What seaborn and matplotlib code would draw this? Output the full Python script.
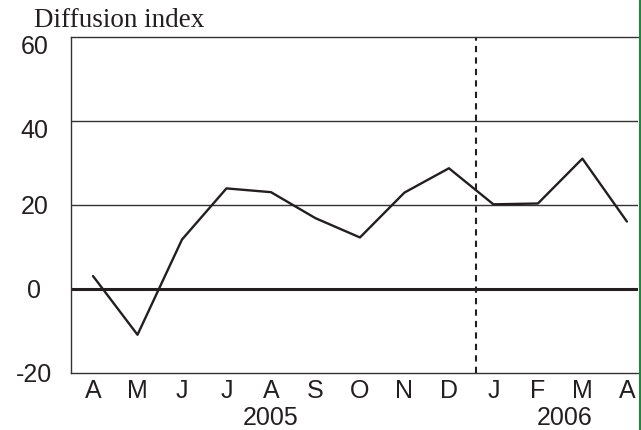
import matplotlib
matplotlib.use("Agg")
import matplotlib.pyplot as plt
import matplotlib.transforms as mtransforms
from matplotlib.lines import Line2D
import seaborn as sns
import pandas as pd

# monthly diffusion index, Apr 2005 - Apr 2006
months = ["A", "M", "J", "J", "A", "S", "O", "N", "D", "J", "F", "M", "A"]
values = [3, -11, 11.7, 23.9, 23, 16.8, 12.2, 22.9, 28.7, 20.1, 20.3, 31, 16]
years = ["2005", "2006"]
year_pos = [4, 10.6]
break_pos = 8.6

df = pd.DataFrame({"t": range(len(months)), "index": values})

sns.set_style("white")
plt.rcParams["font.family"] = ["Liberation Sans", "DejaVu Sans"]
plt.rcParams["axes.unicode_minus"] = False

fig = plt.figure(figsize=(6.41, 4.30), dpi=100)
ax = fig.add_axes([70.5 / 641, 1 - 372.5 / 430, (638 - 70.5) / 641, (372.5 - 37) / 430])

sns.lineplot(data=df, x="t", y="index", ax=ax, color="#231f20", linewidth=1.7)

ax.set_xlim(-0.506, 12.25)
ax.set_ylim(-20, 60)
ax.set_yticks([-20, 0, 20, 40, 60])
ax.set_xticks(range(len(months)))
ax.set_xticklabels(months)
ax.set_xlabel("")
ax.set_ylabel("")
ax.tick_params(axis="both", length=0, labelsize=18, colors="#231f20")
ax.tick_params(axis="x", pad=5)
ax.tick_params(axis="y", pad=26)
for lab in ax.get_yticklabels():
    lab.set_horizontalalignment("center")
    # the top two labels sit just below their lines in the original
    if lab.get_text() in ("60", "40"):
        lab.set_transform(lab.get_transform() +
                          mtransforms.ScaledTranslation(0, -8 / 100, fig.dpi_scale_trans))

for y in [20, 40]:
    ax.axhline(y, color="#333333", linewidth=1.0, zorder=1)
ax.axhline(0, color="#231f20", linewidth=2.2, zorder=1)
ax.axvline(break_pos, color="#231f20", linewidth=1.5, linestyle=(0, (3, 2.5)), zorder=1)

for side in ["left", "bottom", "top"]:
    ax.spines[side].set_color("#333333")
    ax.spines[side].set_linewidth(1.0)
ax.spines["right"].set_visible(False)

for yr, xp in zip(years, year_pos):
    ax.text(xp, -0.1565, yr, transform=ax.get_xaxis_transform(),
            ha="center", va="baseline", fontsize=18, color="#231f20")

fig.text(34 / 641, 1 - 27 / 430, "Diffusion index", family=["Liberation Serif", "DejaVu Serif"],
         fontsize=19.5, ha="left", va="baseline", color="#231f20")

fig.add_artist(Line2D([639.5 / 641, 639.5 / 641], [0, 1], transform=fig.transFigure,
                      color="#1a8a3c", linewidth=2.2))

fig.savefig("out.png", dpi=100)
